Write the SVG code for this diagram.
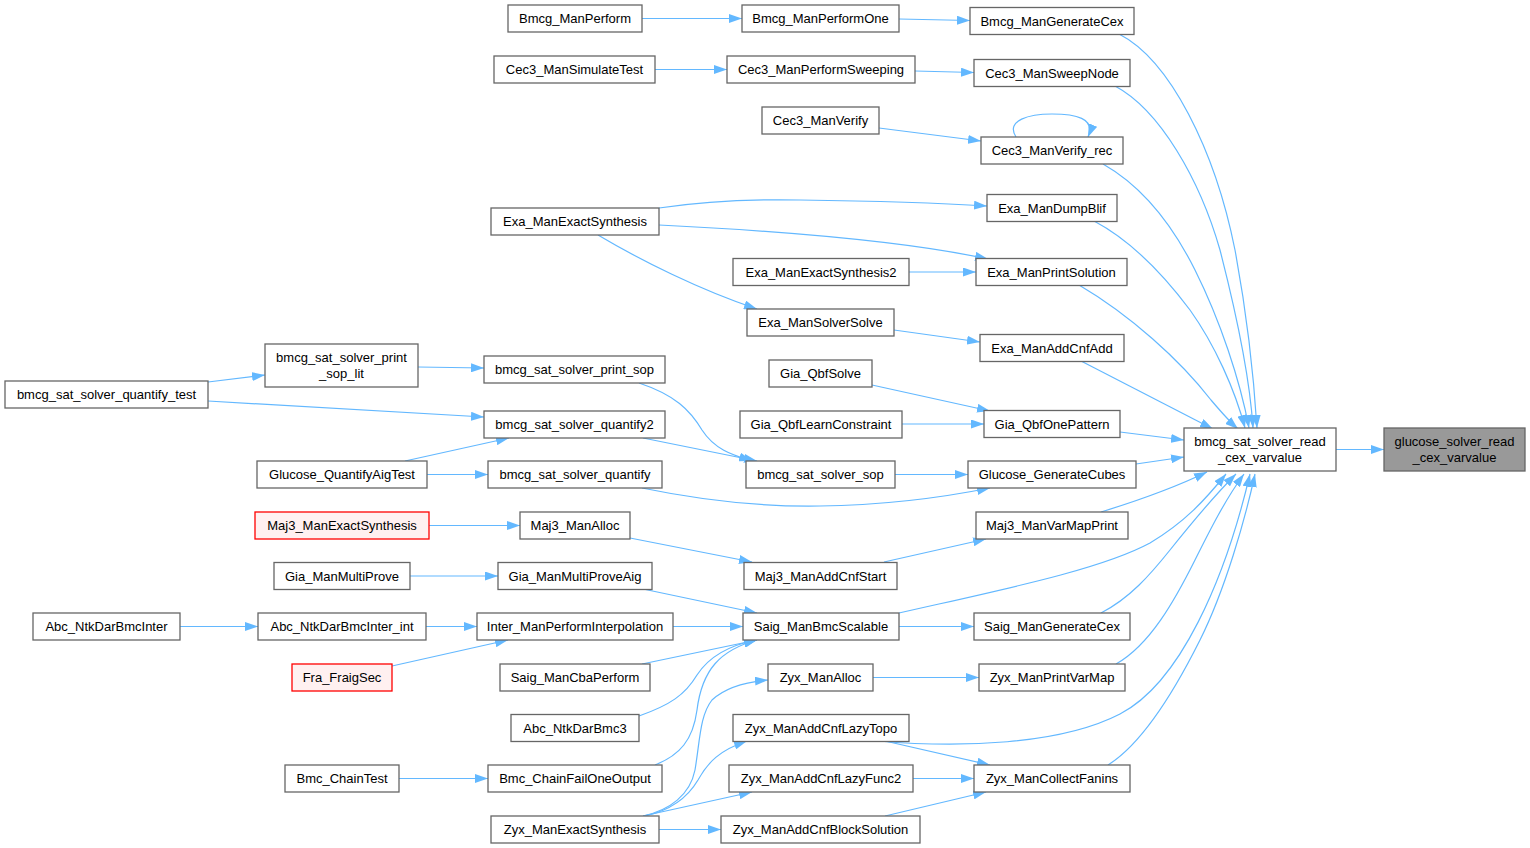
<svg xmlns="http://www.w3.org/2000/svg" width="1530" height="848" viewBox="0 0 1530 848">
<style>
.n{fill:#ffffff;stroke:#666666;stroke-width:1.3}
.r{fill:#fff0f0;stroke:#ff0000;stroke-width:1.3}
.g{fill:#999999;stroke:#666666;stroke-width:1.3}
text{font-family:"Liberation Sans",Arial,sans-serif;font-size:13px;fill:#000000;text-anchor:middle}
.e path{fill:none;stroke:#63b8ff;stroke-width:1.2;marker-end:url(#a)}
</style>
<defs>
<marker id="a" viewBox="0 0 13 9" refX="13" refY="4.5" markerWidth="13" markerHeight="9" orient="auto" markerUnits="userSpaceOnUse">
<path d="M0,0 L13,4.5 L0,9 z" fill="#63b8ff" stroke="none"/>
</marker>
</defs>
<rect width="1530" height="848" fill="#ffffff"/>
<g class="e" id="edges">
<path d="M642,18.5 L742,18.5"/>
<path d="M899,19 L970,20.5"/>
<path d="M1119,34 C1170,60 1215,150 1235,250 C1248,320 1254,380 1257,428"/>
<path d="M655,69.5 L727,69.5"/>
<path d="M915,71 L974,72.5"/>
<path d="M1115,86 C1160,110 1200,180 1220,250 C1238,320 1250,380 1253,428"/>
<path d="M879,128 L981,141"/>
<path d="M1016,137 C1005,120 1030,114 1052,114 C1075,114 1096,118 1088,137"/>
<path d="M1103,164 C1140,185 1170,220 1195,270 C1220,320 1240,380 1249,428"/>
<path d="M659,208 C700,202 750,199 800,200 C880,201 940,203 987,206"/>
<path d="M659,225 C760,230 900,240 988,259"/>
<path d="M598,235 C640,260 700,290 757,309"/>
<path d="M1094,221 C1130,240 1160,270 1190,310 C1215,345 1235,390 1245,428"/>
<path d="M909,272 L976,272"/>
<path d="M1079,285 C1130,315 1180,360 1211,400 C1222,413 1230,422 1238,429"/>
<path d="M894,330 L980,342"/>
<path d="M1081,361 L1213,429"/>
<path d="M208,382 L265,375"/>
<path d="M208,401 L484,417"/>
<path d="M418,367 L484,368"/>
<path d="M405,461 L509,438"/>
<path d="M427,474.5 L488,474.5"/>
<path d="M643,438 L757,461"/>
<path d="M639,383 C675,395 690,410 702,430 C715,450 733,455 752,461"/>
<path d="M642,488 C700,500 760,507 820,506 C900,505 960,494 990,488"/>
<path d="M895,474.5 L968,474.5"/>
<path d="M872,385 L990,411"/>
<path d="M902,424 L984,424"/>
<path d="M1120,432 L1184,440"/>
<path d="M1136,464 L1184,457"/>
<path d="M1336,449.5 L1384,449.5"/>
<path d="M429,525.5 L520,525.5"/>
<path d="M630,538 L752,562"/>
<path d="M884,562 L986,539"/>
<path d="M1101,512 C1140,500 1180,485 1207,472"/>
<path d="M410,576 L498,576"/>
<path d="M643,589 L757,613"/>
<path d="M180,626.5 L258,626.5"/>
<path d="M426,626.5 L477,626.5"/>
<path d="M392,666 L508,640"/>
<path d="M673,626.5 L743,626.5"/>
<path d="M642,664 L757,640"/>
<path d="M639,716 C670,705 685,695 697,675 C710,655 730,645 757,640"/>
<path d="M655,765 C680,755 693,740 697,710 C702,670 720,650 757,640"/>
<path d="M399,778.5 L488,778.5"/>
<path d="M899,626.5 L974,626.5"/>
<path d="M899,613 C1000,590 1100,570 1150,543 C1185,522 1205,500 1226,474"/>
<path d="M1101,613 C1130,598 1150,575 1170,550 C1190,525 1210,500 1236,474"/>
<path d="M873,677.5 L979,677.5"/>
<path d="M1116,664 C1150,645 1175,600 1195,560 C1210,530 1225,500 1244,474"/>
<path d="M643,816 C670,810 690,795 695,770 C700,740 700,715 712,700 C725,688 745,682 768,680"/>
<path d="M645,816 C672,810 688,797 698,780 C708,762 720,750 747,741"/>
<path d="M643,816 L752,792"/>
<path d="M659,829.5 L721,829.5"/>
<path d="M878,741 C960,748 1060,745 1120,714 C1180,683 1225,580 1250,474"/>
<path d="M885,741 L990,765"/>
<path d="M913,778.5 L974,778.5"/>
<path d="M885,816 L986,792"/>
<path d="M1108,765 C1140,745 1170,700 1200,640 C1225,590 1245,520 1255,474"/>
</g>
<g id="n_bmcg_perform"><rect class="n" x="508" y="5" width="134" height="27"/><text x="575" y="23">Bmcg_ManPerform</text></g>
<g id="n_bmcg_performone"><rect class="n" x="742" y="5" width="157" height="27"/><text x="820.5" y="23">Bmcg_ManPerformOne</text></g>
<g id="n_bmcg_gencex"><rect class="n" x="970" y="7.5" width="164" height="27"/><text x="1052" y="25.5">Bmcg_ManGenerateCex</text></g>
<g id="n_cec3_simtest"><rect class="n" x="494" y="56" width="161" height="27"/><text x="574.5" y="74">Cec3_ManSimulateTest</text></g>
<g id="n_cec3_sweeping"><rect class="n" x="727" y="56" width="188" height="27"/><text x="821" y="74">Cec3_ManPerformSweeping</text></g>
<g id="n_cec3_sweepnode"><rect class="n" x="974" y="59.5" width="156" height="27"/><text x="1052" y="77.5">Cec3_ManSweepNode</text></g>
<g id="n_cec3_verify"><rect class="n" x="762" y="107" width="117" height="27"/><text x="820.5" y="125">Cec3_ManVerify</text></g>
<g id="n_cec3_verifyrec"><rect class="n" x="981" y="137" width="142" height="27"/><text x="1052" y="155">Cec3_ManVerify_rec</text></g>
<g id="n_exa_exact"><rect class="n" x="491" y="208" width="168" height="27"/><text x="575" y="226">Exa_ManExactSynthesis</text></g>
<g id="n_exa_dumpblif"><rect class="n" x="987" y="194.5" width="130" height="27"/><text x="1052" y="212.5">Exa_ManDumpBlif</text></g>
<g id="n_exa_exact2"><rect class="n" x="733" y="258.5" width="176" height="27"/><text x="821" y="276.5">Exa_ManExactSynthesis2</text></g>
<g id="n_exa_printsol"><rect class="n" x="976" y="258.5" width="151" height="27"/><text x="1051.5" y="276.5">Exa_ManPrintSolution</text></g>
<g id="n_exa_solversolve"><rect class="n" x="747" y="309" width="147" height="27"/><text x="820.5" y="327">Exa_ManSolverSolve</text></g>
<g id="n_exa_addcnfadd"><rect class="n" x="980" y="334.5" width="144" height="27"/><text x="1052" y="352.5">Exa_ManAddCnfAdd</text></g>
<g id="n_qtest"><rect class="n" x="5" y="381" width="203" height="27"/><text x="106.5" y="399">bmcg_sat_solver_quantify_test</text></g>
<g id="n_printsoplit"><rect class="n" x="265" y="344" width="153" height="43"/><text x="341.5" y="362">bmcg_sat_solver_print</text><text x="341.5" y="378">_sop_lit</text></g>
<g id="n_printsop"><rect class="n" x="484" y="356" width="181" height="27"/><text x="574.5" y="374">bmcg_sat_solver_print_sop</text></g>
<g id="n_quantify2"><rect class="n" x="484" y="411" width="181" height="27"/><text x="574.5" y="429">bmcg_sat_solver_quantify2</text></g>
<g id="n_quantify"><rect class="n" x="488" y="461" width="174" height="27"/><text x="575" y="479">bmcg_sat_solver_quantify</text></g>
<g id="n_glucose_qat"><rect class="n" x="257" y="461" width="170" height="27"/><text x="342" y="479">Glucose_QuantifyAigTest</text></g>
<g id="n_gia_qbfsolve"><rect class="n" x="769" y="360" width="103" height="27"/><text x="820.5" y="378">Gia_QbfSolve</text></g>
<g id="n_gia_qbflearn"><rect class="n" x="740" y="411" width="162" height="27"/><text x="821" y="429">Gia_QbfLearnConstraint</text></g>
<g id="n_sop"><rect class="n" x="746" y="461" width="149" height="27"/><text x="820.5" y="479">bmcg_sat_solver_sop</text></g>
<g id="n_gia_qbfone"><rect class="n" x="984" y="410.5" width="136" height="27"/><text x="1052" y="428.5">Gia_QbfOnePattern</text></g>
<g id="n_glucose_gencubes"><rect class="n" x="968" y="461" width="168" height="27"/><text x="1052" y="479">Glucose_GenerateCubes</text></g>
<g id="n_readcex"><rect class="n" x="1184" y="428" width="152" height="43"/><text x="1260" y="446">bmcg_sat_solver_read</text><text x="1260" y="462">_cex_varvalue</text></g>
<g id="n_glucose_readcex"><rect class="g" x="1384" y="428" width="141" height="43"/><text x="1454.5" y="446">glucose_solver_read</text><text x="1454.5" y="462">_cex_varvalue</text></g>
<g id="n_maj3_exact"><rect class="r" x="255" y="512" width="174" height="27"/><text x="342" y="530">Maj3_ManExactSynthesis</text></g>
<g id="n_maj3_alloc"><rect class="n" x="520" y="512" width="110" height="27"/><text x="575" y="530">Maj3_ManAlloc</text></g>
<g id="n_maj3_varmap"><rect class="n" x="976" y="512" width="152" height="27"/><text x="1052" y="530">Maj3_ManVarMapPrint</text></g>
<g id="n_maj3_addcnfstart"><rect class="n" x="744" y="562.5" width="153" height="27"/><text x="820.5" y="580.5">Maj3_ManAddCnfStart</text></g>
<g id="n_gia_multiprove"><rect class="n" x="274" y="562.5" width="136" height="27"/><text x="342" y="580.5">Gia_ManMultiProve</text></g>
<g id="n_gia_multiproveaig"><rect class="n" x="498" y="562.5" width="154" height="27"/><text x="575" y="580.5">Gia_ManMultiProveAig</text></g>
<g id="n_abc_bmcinter"><rect class="n" x="33" y="613" width="147" height="27"/><text x="106.5" y="631">Abc_NtkDarBmcInter</text></g>
<g id="n_abc_bmcinter_int"><rect class="n" x="258" y="613" width="168" height="27"/><text x="342" y="631">Abc_NtkDarBmcInter_int</text></g>
<g id="n_inter"><rect class="n" x="477" y="613" width="196" height="27"/><text x="575" y="631">Inter_ManPerformInterpolation</text></g>
<g id="n_saig_bmc"><rect class="n" x="743" y="613" width="156" height="27"/><text x="821" y="631">Saig_ManBmcScalable</text></g>
<g id="n_saig_gencex"><rect class="n" x="974" y="613" width="156" height="27"/><text x="1052" y="631">Saig_ManGenerateCex</text></g>
<g id="n_fra"><rect class="r" x="292" y="664" width="100" height="27"/><text x="342" y="682">Fra_FraigSec</text></g>
<g id="n_saig_cba"><rect class="n" x="500" y="664" width="150" height="27"/><text x="575" y="682">Saig_ManCbaPerform</text></g>
<g id="n_zyx_alloc"><rect class="n" x="768" y="664" width="105" height="27"/><text x="820.5" y="682">Zyx_ManAlloc</text></g>
<g id="n_zyx_printvarmap"><rect class="n" x="979" y="664" width="146" height="27"/><text x="1052" y="682">Zyx_ManPrintVarMap</text></g>
<g id="n_abc_bmc3"><rect class="n" x="511" y="714.5" width="128" height="27"/><text x="575" y="732.5">Abc_NtkDarBmc3</text></g>
<g id="n_zyx_lazytopo"><rect class="n" x="733" y="714.5" width="176" height="27"/><text x="821" y="732.5">Zyx_ManAddCnfLazyTopo</text></g>
<g id="n_bmc_chaintest"><rect class="n" x="285" y="765" width="114" height="27"/><text x="342" y="783">Bmc_ChainTest</text></g>
<g id="n_bmc_chainfail"><rect class="n" x="488" y="765" width="174" height="27"/><text x="575" y="783">Bmc_ChainFailOneOutput</text></g>
<g id="n_zyx_lazyfunc2"><rect class="n" x="729" y="765" width="184" height="27"/><text x="821" y="783">Zyx_ManAddCnfLazyFunc2</text></g>
<g id="n_zyx_collect"><rect class="n" x="974" y="765" width="156" height="27"/><text x="1052" y="783">Zyx_ManCollectFanins</text></g>
<g id="n_zyx_exact"><rect class="n" x="491" y="816" width="168" height="27"/><text x="575" y="834">Zyx_ManExactSynthesis</text></g>
<g id="n_zyx_block"><rect class="n" x="721" y="816" width="199" height="27"/><text x="820.5" y="834">Zyx_ManAddCnfBlockSolution</text></g>
</svg>
